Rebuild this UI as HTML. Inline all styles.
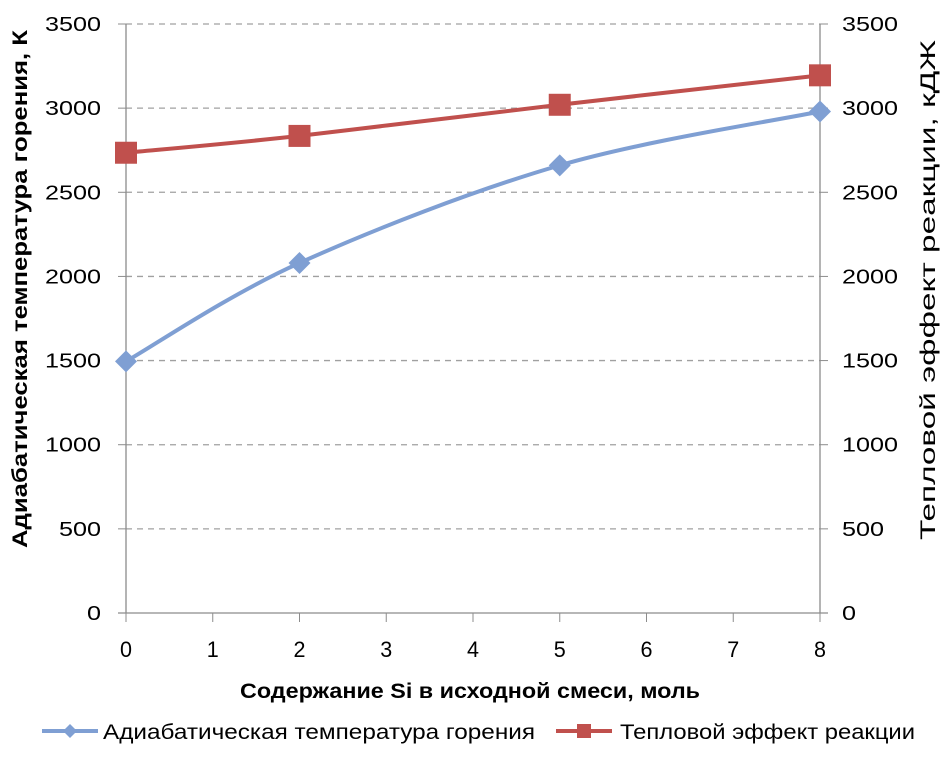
<!DOCTYPE html>
<html><head><meta charset="utf-8"><style>
body{margin:0;background:#fff;width:945px;height:765px;overflow:hidden}
svg text{font-family:"Liberation Sans",sans-serif;fill:#000}
</style></head><body>
<svg id="chart" width="945" height="765" xmlns="http://www.w3.org/2000/svg">
<g id="grid"></g>
<g id="axes"></g>
<g id="series"></g>
<text transform="translate(27,289) rotate(-90)" text-anchor="middle" font-size="21" font-weight="bold" textLength="518" lengthAdjust="spacingAndGlyphs">Адиабатическая температура горения, К</text>
<text transform="translate(935,290) rotate(-90)" text-anchor="middle" font-size="21" textLength="500" lengthAdjust="spacingAndGlyphs">Тепловой эффект реакции, кДЖ</text>
<text x="470" y="698" text-anchor="middle" font-size="21" font-weight="bold" textLength="460" lengthAdjust="spacingAndGlyphs">Содержание Si в исходной смеси, моль</text>
<g>
<line x1="42" y1="731" x2="98" y2="731" stroke="#7f9fd3" stroke-width="4"/>
<path d="M70 724 L77 731 L70 738 L63 731Z" fill="#7f9fd3"/>
<text x="103" y="739" font-size="21" textLength="432" lengthAdjust="spacingAndGlyphs">Адиабатическая температура горения</text></g>
<g>
<line x1="556" y1="731" x2="612" y2="731" stroke="#c0504d" stroke-width="4"/>
<rect x="577" y="724" width="14" height="14" fill="#c0504d"/>
<text x="620" y="739" font-size="21" textLength="295" lengthAdjust="spacingAndGlyphs">Тепловой эффект реакции</text></g>
</svg>
<script>
const xCats=[0,2,5,8];
const tempVals=[1495,2080,2660,2980];
const heatVals=[2735,2835,3020,3195];
const yTicks=[0,500,1000,1500,2000,2500,3000,3500];
const xTicks=[0,1,2,3,4,5,6,7,8];
const NS="http://www.w3.org/2000/svg";
const X=v=>126+v*(820-126)/8, Y=v=>613-v*(613-24)/3500;
function mk(t,a,p){const e=document.createElementNS(NS,t);for(const k in a)e.setAttribute(k,a[k]);p.appendChild(e);return e;}
const g=document.getElementById('grid'),ax=document.getElementById('axes'),s=document.getElementById('series');
yTicks.forEach(v=>{
 if(v>0){const l=mk('line',{x1:126,x2:820,y1:Y(v),y2:Y(v),stroke:'#a0a0a0','stroke-width':1.3,'stroke-dasharray':'6 5'},g);
 
 }
 const w=String(v).length*14;
 const t=mk('text',{x:101,y:Y(v)+7,'text-anchor':'end','font-size':20,textLength:w,lengthAdjust:'spacingAndGlyphs'},ax);t.textContent=v;
 
 
 const t2=mk('text',{x:842,y:Y(v)+7,'font-size':20,textLength:w,lengthAdjust:'spacingAndGlyphs'},ax);t2.textContent=v;
 
 
 mk('line',{x1:118,x2:126,y1:Y(v),y2:Y(v),stroke:'#8c8c8c'},ax);
 mk('line',{x1:820,x2:828,y1:Y(v),y2:Y(v),stroke:'#8c8c8c'},ax);
});
mk('line',{x1:126,x2:126,y1:24,y2:613,stroke:'#8c8c8c','stroke-width':1.3},ax);
mk('line',{x1:820,x2:820,y1:24,y2:613,stroke:'#8c8c8c','stroke-width':1.3},ax);
mk('line',{x1:118,x2:828,y1:613,y2:613,stroke:'#8c8c8c','stroke-width':1.3},ax);
xTicks.forEach(v=>{
 mk('line',{x1:X(v),x2:X(v),y1:613,y2:622,stroke:'#8c8c8c'},ax);
 const t=mk('text',{x:X(v),y:657,'text-anchor':'middle','font-size':22,textLength:12,lengthAdjust:'spacingAndGlyphs'},ax);t.textContent=v;
 
 
});
function smooth(pts){let d=`M${pts[0][0]} ${pts[0][1]}`;
 for(let i=0;i<pts.length-1;i++){const p0=pts[i-1]||pts[i],p1=pts[i],p2=pts[i+1],p3=pts[i+2]||p2;
 d+=` C${p1[0]+(p2[0]-p0[0])/6} ${p1[1]+(p2[1]-p0[1])/6} ${p2[0]-(p3[0]-p1[0])/6} ${p2[1]-(p3[1]-p1[1])/6} ${p2[0]} ${p2[1]}`;}return d;}
const tp=xCats.map((c,i)=>[X(c),Y(tempVals[i])]), hp=xCats.map((c,i)=>[X(c),Y(heatVals[i])]);
const l1=mk('path',{d:smooth(tp),fill:'none',stroke:'#7f9fd3','stroke-width':4},s);


const l2=mk('path',{d:smooth(hp),fill:'none',stroke:'#c0504d','stroke-width':4},s);


tp.forEach(p=>{const m=mk('path',{d:`M${p[0]} ${p[1]-11}L${p[0]+11} ${p[1]}L${p[0]} ${p[1]+11}L${p[0]-11} ${p[1]}Z`,fill:'#7f9fd3'},s);
 
 });
hp.forEach(p=>{const m=mk('rect',{x:p[0]-11,y:p[1]-11,width:22,height:22,fill:'#c0504d'},s);
 
 });
</script>
</body></html>
